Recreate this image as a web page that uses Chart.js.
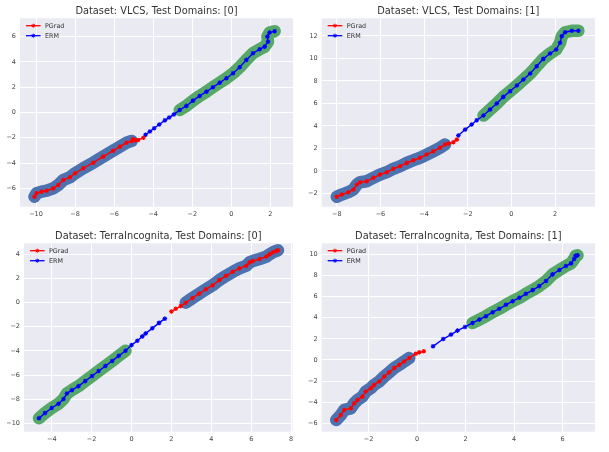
<!DOCTYPE html>
<html>
<head>
<meta charset="utf-8">
<script src="https://cdn.jsdelivr.net/npm/chart.js@4.4.1/dist/chart.umd.min.js"></script>
<style>
  html, body { margin: 0; padding: 0; background: #fff; }
  canvas { position: absolute; }
</style>
</head>
<body>
<canvas id="c0" width="300" height="225" style="left:0;top:0"></canvas>
<canvas id="c1" width="309" height="225" style="left:300px;top:0"></canvas>
<canvas id="c2" width="300" height="227" style="left:0;top:225px"></canvas>
<canvas id="c3" width="309" height="227" style="left:300px;top:225px"></canvas>
<script>
// --- data ---
const titles = [
  "Dataset: VLCS, Test Domains: [0]",
  "Dataset: VLCS, Test Domains: [1]",
  "Dataset: TerraIncognita, Test Domains: [0]",
  "Dataset: TerraIncognita, Test Domains: [1]"
];
const seriesNames = ["PGrad", "ERM"];

// VLCS, test domain 0
const vlcs0PGradX = [-10.08, -9.97, -9.71, -9.45, -9.12, -8.86, -8.6, -8.26, -8.0, -7.58, -7.07, -6.56, -6.05, -5.7, -5.36, -5.1, -5.02, -4.9, -4.77, -4.5];
const vlcs0PGradY = [-6.66, -6.39, -6.26, -6.18, -6.0, -5.73, -5.34, -5.12, -4.81, -4.41, -3.97, -3.49, -3.02, -2.7, -2.39, -2.25, -2.12, -2.2, -2.17, -2.0];
const vlcs0ErmX = [-4.39, -4.17, -3.95, -3.69, -3.4, -3.18, -2.94, -2.64, -2.3, -1.96, -1.62, -1.27, -0.94, -0.59, -0.25, 0.09, 0.43, 0.77, 1.11, 1.45, 1.71, 1.88, 1.85, 1.96, 2.22];
const vlcs0ErmY = [-1.76, -1.5, -1.25, -0.95, -0.62, -0.4, -0.15, 0.2, 0.52, 0.94, 1.31, 1.65, 2.0, 2.36, 2.71, 3.1, 3.58, 4.16, 4.69, 5.0, 5.21, 5.6, 6.0, 6.32, 6.43];

// VLCS, test domain 1
const vlcs1PGradX = [-8.0, -7.77, -7.47, -7.24, -7.08, -6.93, -6.63, -6.32, -6.02, -5.71, -5.41, -5.1, -4.79, -4.49, -4.19, -3.88, -3.58, -3.27, -3.04, -2.89, -2.66, -2.5];
const vlcs1PGradY = [-2.31, -2.11, -1.9, -1.66, -1.22, -1.01, -0.93, -0.62, -0.33, -0.12, 0.18, 0.41, 0.71, 0.94, 1.16, 1.45, 1.74, 2.05, 2.34, 2.43, 2.54, 2.78];
const vlcs1ErmX = [-2.43, -2.12, -1.82, -1.59, -1.28, -0.98, -0.67, -0.37, -0.06, 0.25, 0.55, 0.86, 1.16, 1.46, 1.77, 2.05, 2.23, 2.31, 2.46, 2.77, 3.07];
const vlcs1ErmY = [3.14, 3.67, 4.12, 4.5, 4.92, 5.45, 5.99, 6.58, 7.08, 7.59, 8.12, 8.66, 9.31, 9.96, 10.44, 10.79, 11.39, 11.98, 12.33, 12.46, 12.46];

// TerraIncognita, test domain 0
const terra0PGradX = [2.0, 2.22, 2.47, 2.72, 3.06, 3.39, 3.73, 4.07, 4.4, 4.74, 5.08, 5.41, 5.75, 5.92, 6.08, 6.42, 6.76, 6.92, 7.09, 7.26, 7.34];
const terra0PGradY = [-0.74, -0.51, -0.29, -0.01, 0.38, 0.74, 1.1, 1.44, 1.86, 2.22, 2.55, 2.83, 3.05, 3.33, 3.44, 3.61, 3.81, 4.0, 4.17, 4.28, 4.33];
const terra0ErmX = [-4.64, -4.34, -4.0, -3.66, -3.41, -3.24, -2.99, -2.66, -2.32, -1.98, -1.65, -1.31, -0.97, -0.64, -0.3, 0.0, 0.29, 0.54, 0.71, 1.04, 1.38, 1.67];
const terra0ErmY = [-9.57, -9.15, -8.73, -8.37, -7.98, -7.53, -7.25, -6.92, -6.5, -6.08, -5.67, -5.25, -4.83, -4.41, -3.99, -3.52, -3.16, -2.8, -2.55, -2.13, -1.68, -1.33];

// TerraIncognita, test domain 1
const terra1PGradX = [-3.33, -3.14, -3.0, -2.73, -2.59, -2.45, -2.25, -2.11, -1.9, -1.77, -1.56, -1.35, -1.15, -0.94, -0.73, -0.53, -0.32, -0.05, 0.09, 0.28];
const terra1PGradY = [-5.68, -5.21, -4.73, -4.58, -4.1, -3.78, -3.47, -2.99, -2.67, -2.36, -2.04, -1.57, -1.18, -0.77, -0.46, -0.14, 0.18, 0.59, 0.72, 0.82];
const terra1ErmX = [0.66, 1.08, 1.4, 1.67, 1.98, 2.29, 2.57, 2.84, 3.12, 3.39, 3.67, 3.94, 4.22, 4.49, 4.77, 5.04, 5.32, 5.59, 5.87, 6.14, 6.35, 6.48, 6.54, 6.62];
const terra1ErmY = [1.29, 1.98, 2.4, 2.78, 3.12, 3.5, 3.82, 4.14, 4.52, 4.84, 5.22, 5.56, 5.88, 6.26, 6.61, 6.99, 7.47, 8.1, 8.51, 8.89, 9.14, 9.55, 9.85, 9.9];

// highlighted stretch of each series, as [first index, last index]
const pgradHighlight = [[0, 15], [0, 18], [3, 20], [0, 16]];
const ermHighlight = [[7, 24], [4, 20], [0, 14], [5, 23]];

// tick labels
const xTickVals = [
  [-10, -8, -6, -4, -2, 0, 2],
  [-8, -6, -4, -2, 0, 2],
  [-4, -2, 0, 2, 4, 6, 8],
  [-2, 0, 2, 4, 6]
];
const yTickVals = [
  [-6, -4, -2, 0, 2, 4, 6],
  [-2, 0, 2, 4, 6, 8, 10, 12],
  [-10, -8, -6, -4, -2, 0, 2, 4],
  [-6, -4, -2, 0, 2, 4, 6, 8, 10]
];

const pgradX = [vlcs0PGradX, vlcs1PGradX, terra0PGradX, terra1PGradX];
const pgradY = [vlcs0PGradY, vlcs1PGradY, terra0PGradY, terra1PGradY];
const ermX = [vlcs0ErmX, vlcs1ErmX, terra0ErmX, terra1ErmX];
const ermY = [vlcs0ErmY, vlcs1ErmY, terra0ErmY, terra1ErmY];

// --- layout of the four panels ---
const panels = [
  { xr: [-10.82, 3.16], yr: [-7.45, 7.45], yW: 20, xH: 18.3, right: 7 },
  { xr: [-8.69, 3.83], yr: [-3.19, 13.57], yW: 21.7, xH: 18.3, right: 14 },
  { xr: [-5.39, 8.08], yr: [-10.69, 4.91], yW: 24, xH: 20.3, right: 7.3 },
  { xr: [-3.93, 7.34], yr: [-6.79, 11.04], yW: 21.7, xH: 20.3, right: 14 }
];

const FONT = '"DejaVu Sans", "Liberation Sans", sans-serif';
const minus = v => String(v).replace('-', '\u2212');
const pts = (xs, ys) => xs.map((x, i) => ({ x: x, y: ys[i] }));

const plotBg = {
  id: 'plotBg',
  beforeDraw(chart) {
    const { ctx, chartArea: a } = chart;
    ctx.save();
    ctx.fillStyle = '#EAEAF2';
    ctx.fillRect(a.left, a.top, a.right - a.left, a.bottom - a.top);
    ctx.restore();
  }
};

// title centred over the axes, like matplotlib
const axTitle = {
  id: 'axTitle',
  afterDraw(chart, args, opts) {
    const { ctx, chartArea: a } = chart;
    ctx.save();
    ctx.font = '9.8px ' + FONT;
    ctx.fillStyle = '#333';
    ctx.textAlign = 'center';
    ctx.textBaseline = 'alphabetic';
    ctx.fillText(opts.text, (a.left + a.right) / 2, a.top - 4.6);
    ctx.restore();
  }
};

function drawStar(ctx, x, y, r) {
  ctx.beginPath();
  for (let k = 0; k < 4; k++) {
    const t = k * Math.PI / 4;
    ctx.moveTo(x - r * Math.cos(t), y - r * Math.sin(t));
    ctx.lineTo(x + r * Math.cos(t), y + r * Math.sin(t));
  }
  ctx.stroke();
}

// legend inside the upper-left corner of the axes, no frame
const innerLegend = {
  id: 'innerLegend',
  afterDatasetsDraw(chart) {
    const { ctx, chartArea: a } = chart;
    const items = chart.data.datasets.filter(d => d.inLegend);
    items.forEach((d, i) => {
      const y = a.top + 7.4 + i * 10;
      const x0 = a.left + 6;
      ctx.save();
      ctx.strokeStyle = d.borderColor;
      ctx.lineWidth = 1.3;
      ctx.beginPath();
      ctx.moveTo(x0, y);
      ctx.lineTo(x0 + 14.6, y);
      ctx.stroke();
      ctx.lineWidth = 1;
      drawStar(ctx, x0 + 7.3, y, 2);
      ctx.font = '6.4px ' + FONT;
      ctx.fillStyle = '#333';
      ctx.textBaseline = 'middle';
      ctx.fillText(d.label, x0 + 19, y + 0.3);
      ctx.restore();
    });
  }
};

panels.forEach((p, i) => {
  const pg = pts(pgradX[i], pgradY[i]);
  const er = pts(ermX[i], ermY[i]);
  const pgH = pg.slice(pgradHighlight[i][0], pgradHighlight[i][1] + 1);
  const erH = er.slice(ermHighlight[i][0], ermHighlight[i][1] + 1);
  const band = (data, color) => ({
    data: data, showLine: true, borderColor: color, borderWidth: 12.5,
    borderCapStyle: 'round', borderJoinStyle: 'round', pointRadius: 0, order: 3
  });
  const series = (data, label, color) => ({
    label: label, inLegend: true, data: data, showLine: true,
    borderColor: color, backgroundColor: color, borderWidth: 1.4,
    pointStyle: 'star', pointRadius: 2.3, pointBorderWidth: 1.1,
    pointBorderColor: color, order: 1
  });

  new Chart(document.getElementById('c' + i), {
    type: 'scatter',
    data: {
      datasets: [
        band(pgH, '#4C72B0'),
        band(erH, '#55A868'),
        series(pg, seriesNames[0], '#ff0000'),
        series(er, seriesNames[1], '#0000ff')
      ]
    },
    options: {
      responsive: false,
      animation: false,
      devicePixelRatio: 1,
      layout: { padding: { top: 18.3, left: 0, right: p.right, bottom: 0 } },
      plugins: {
        legend: { display: false },
        tooltip: { enabled: false },
        axTitle: { text: titles[i] }
      },
      scales: {
        x: {
          type: 'linear', min: p.xr[0], max: p.xr[1],
          afterBuildTicks: s => { s.ticks = xTickVals[i].map(v => ({ value: v })); },
          afterFit: s => { s.height = p.xH; },
          grid: { color: '#ffffff', lineWidth: 1, drawTicks: false },
          border: { display: false },
          ticks: { padding: 4, color: '#444', font: { family: FONT, size: 6.5 }, callback: minus, maxRotation: 0, autoSkip: false }
        },
        y: {
          type: 'linear', min: p.yr[0], max: p.yr[1],
          afterBuildTicks: s => { s.ticks = yTickVals[i].map(v => ({ value: v })); },
          afterFit: s => { s.width = p.yW; },
          grid: { color: '#ffffff', lineWidth: 1, drawTicks: false },
          border: { display: false },
          ticks: { padding: 4, color: '#444', font: { family: FONT, size: 6.5 }, callback: minus, autoSkip: false }
        }
      }
    },
    plugins: [plotBg, axTitle, innerLegend]
  });
});
</script>
</body>
</html>
